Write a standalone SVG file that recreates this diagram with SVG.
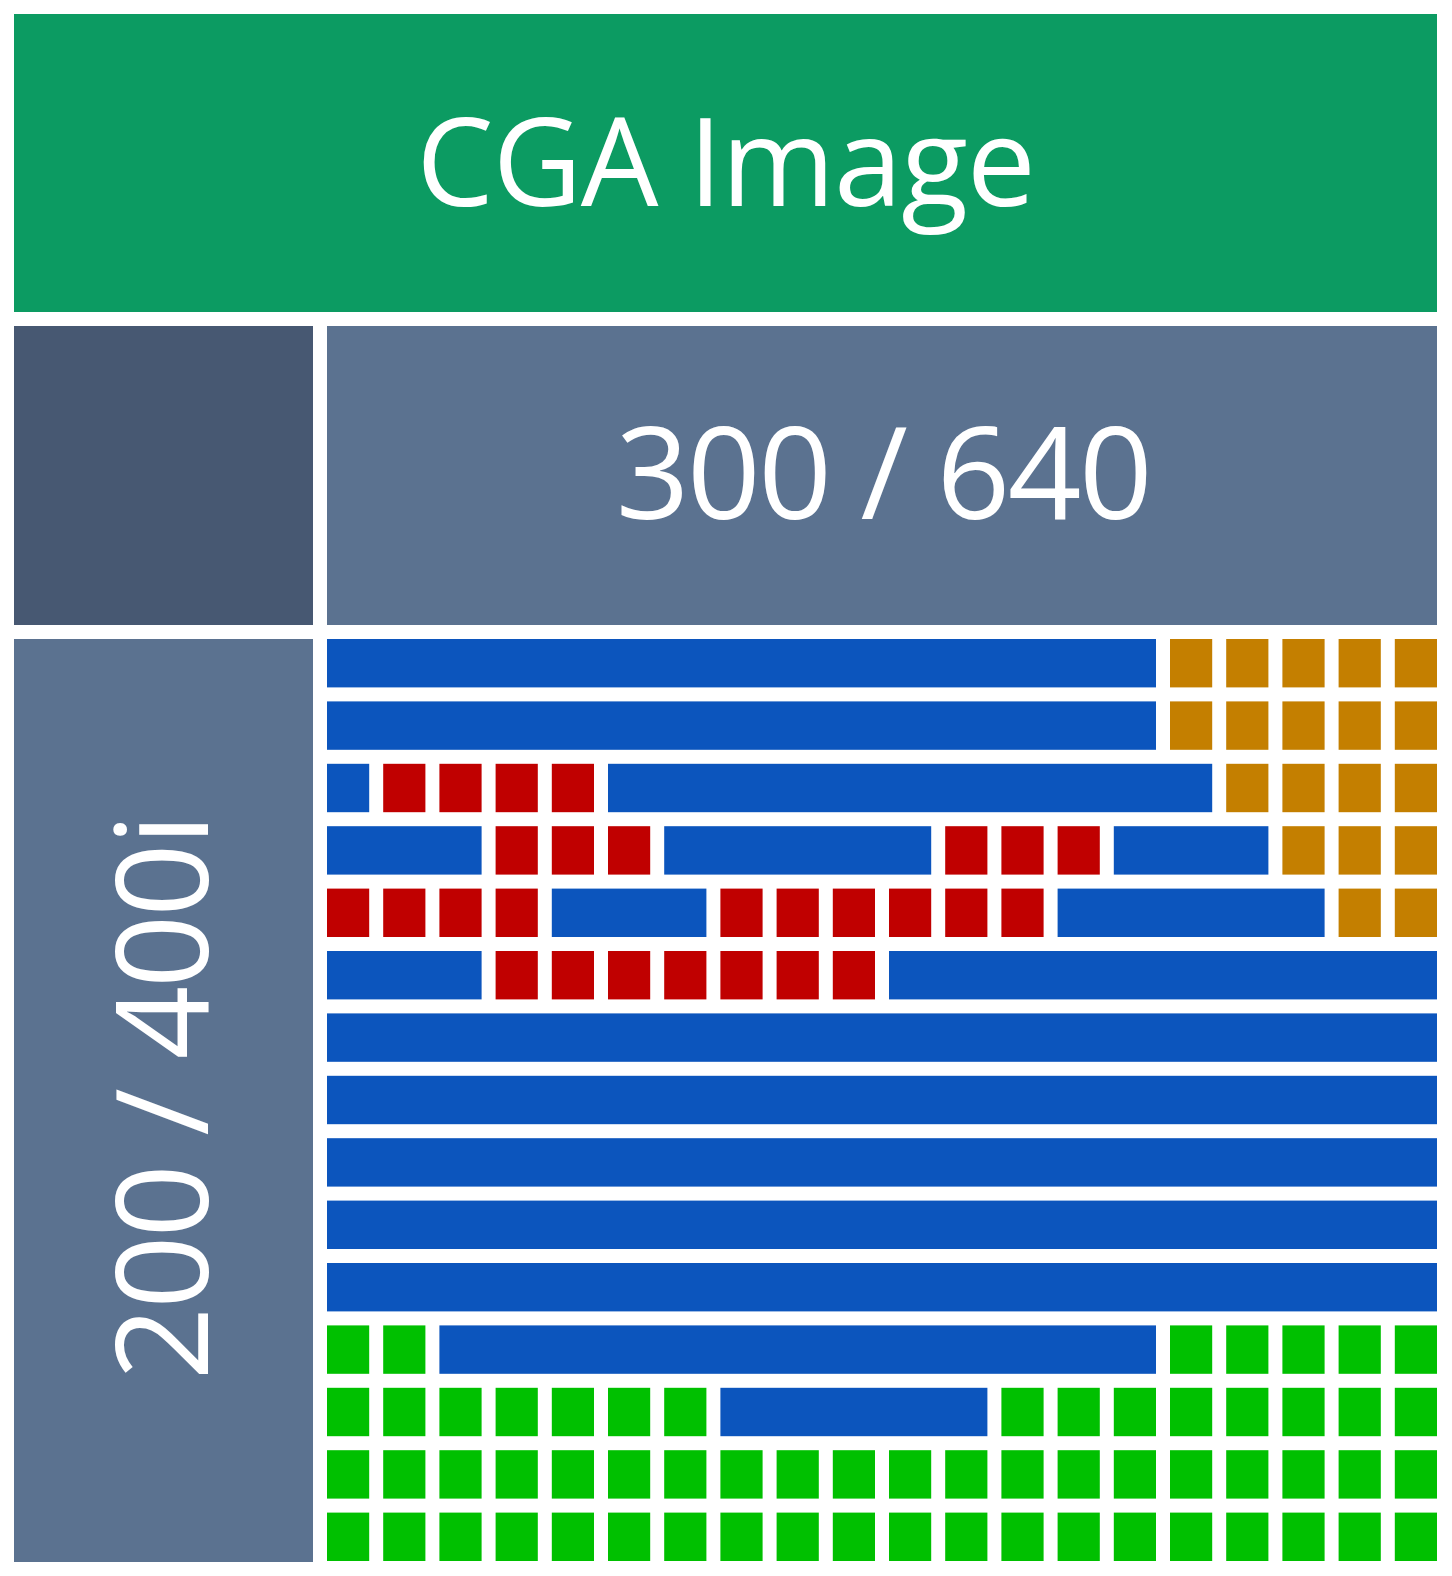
<svg xmlns="http://www.w3.org/2000/svg" xmlns:xlink="http://www.w3.org/1999/xlink" width="1452" height="1576" viewBox="0 0 1452 1576">
<style>
.lbl{font-family:"Open Sans","Noto Sans","Liberation Sans",sans-serif;fill:#ffffff;text-anchor:middle}
.b{fill:#0C55BD}
.r{fill:#C00000}
.o{fill:#C47F00}
.g{fill:#00C000}
</style>
<defs>
<rect id="c" width="42.2" height="48.4"/>
</defs>
<rect width="1452" height="1576" fill="#ffffff"/>
<g id="header">
<rect x="14" y="14" width="1423" height="298" fill="#0C9B62"/>
<text class="lbl" x="725.5" y="206" font-size="123" letter-spacing="-1.2">CGA Image</text>
</g>
<g id="corner">
<rect x="14" y="326" width="299" height="299" fill="#475872"/>
</g>
<g id="width-label">
<rect x="327" y="326" width="1110" height="299" fill="#5B7290"/>
<text class="lbl" x="883" y="519" font-size="129" letter-spacing="-2.5">300 / 640</text>
</g>
<g id="height-label">
<rect x="14" y="639" width="299" height="923" fill="#5B7290"/>
<text class="lbl" transform="translate(208 1098) rotate(-90)" x="0" y="0" font-size="129" letter-spacing="-2.5">200 / 400i</text>
</g>
<g id="grid">
<g id="row0" transform="translate(0 639)">
<rect class="b" x="327" y="0" width="829" height="48.4"/>
<use href="#c" class="o" x="1170"/><use href="#c" class="o" x="1226.2"/><use href="#c" class="o" x="1282.4"/><use href="#c" class="o" x="1338.6"/><use href="#c" class="o" x="1394.8"/>
</g>
<g id="row1" transform="translate(0 701.4)">
<rect class="b" x="327" y="0" width="829" height="48.4"/>
<use href="#c" class="o" x="1170"/><use href="#c" class="o" x="1226.2"/><use href="#c" class="o" x="1282.4"/><use href="#c" class="o" x="1338.6"/><use href="#c" class="o" x="1394.8"/>
</g>
<g id="row2" transform="translate(0 763.8)">
<rect class="b" x="327" y="0" width="42.2" height="48.4"/>
<use href="#c" class="r" x="383.2"/><use href="#c" class="r" x="439.4"/><use href="#c" class="r" x="495.6"/><use href="#c" class="r" x="551.8"/>
<rect class="b" x="608" y="0" width="604.2" height="48.4"/>
<use href="#c" class="o" x="1226.2"/><use href="#c" class="o" x="1282.4"/><use href="#c" class="o" x="1338.6"/><use href="#c" class="o" x="1394.8"/>
</g>
<g id="row3" transform="translate(0 826.2)">
<rect class="b" x="327" y="0" width="154.6" height="48.4"/>
<use href="#c" class="r" x="495.6"/><use href="#c" class="r" x="551.8"/><use href="#c" class="r" x="608"/>
<rect class="b" x="664.2" y="0" width="267" height="48.4"/>
<use href="#c" class="r" x="945.2"/><use href="#c" class="r" x="1001.4"/><use href="#c" class="r" x="1057.6"/>
<rect class="b" x="1113.8" y="0" width="154.6" height="48.4"/>
<use href="#c" class="o" x="1282.4"/><use href="#c" class="o" x="1338.6"/><use href="#c" class="o" x="1394.8"/>
</g>
<g id="row4" transform="translate(0 888.6)">
<use href="#c" class="r" x="327"/><use href="#c" class="r" x="383.2"/><use href="#c" class="r" x="439.4"/><use href="#c" class="r" x="495.6"/>
<rect class="b" x="551.8" y="0" width="154.6" height="48.4"/>
<use href="#c" class="r" x="720.4"/><use href="#c" class="r" x="776.6"/><use href="#c" class="r" x="832.8"/><use href="#c" class="r" x="889"/><use href="#c" class="r" x="945.2"/><use href="#c" class="r" x="1001.4"/>
<rect class="b" x="1057.6" y="0" width="267" height="48.4"/>
<use href="#c" class="o" x="1338.6"/><use href="#c" class="o" x="1394.8"/>
</g>
<g id="row5" transform="translate(0 951)">
<rect class="b" x="327" y="0" width="154.6" height="48.4"/>
<use href="#c" class="r" x="495.6"/><use href="#c" class="r" x="551.8"/><use href="#c" class="r" x="608"/><use href="#c" class="r" x="664.2"/><use href="#c" class="r" x="720.4"/><use href="#c" class="r" x="776.6"/><use href="#c" class="r" x="832.8"/>
<rect class="b" x="889" y="0" width="548" height="48.4"/>
</g>
<g id="rows6-10">
<rect class="b" x="327" y="1013.4" width="1110" height="48.4"/>
<rect class="b" x="327" y="1075.8" width="1110" height="48.4"/>
<rect class="b" x="327" y="1138.2" width="1110" height="48.4"/>
<rect class="b" x="327" y="1200.6" width="1110" height="48.4"/>
<rect class="b" x="327" y="1263" width="1110" height="48.4"/>
</g>
<g id="row11" transform="translate(0 1325.4)">
<use href="#c" class="g" x="327"/><use href="#c" class="g" x="383.2"/>
<rect class="b" x="439.4" y="0" width="716.6" height="48.4"/>
<use href="#c" class="g" x="1170"/><use href="#c" class="g" x="1226.2"/><use href="#c" class="g" x="1282.4"/><use href="#c" class="g" x="1338.6"/><use href="#c" class="g" x="1394.8"/>
</g>
<g id="row12" transform="translate(0 1387.8)">
<use href="#c" class="g" x="327"/><use href="#c" class="g" x="383.2"/><use href="#c" class="g" x="439.4"/><use href="#c" class="g" x="495.6"/><use href="#c" class="g" x="551.8"/><use href="#c" class="g" x="608"/><use href="#c" class="g" x="664.2"/>
<rect class="b" x="720.4" y="0" width="267" height="48.4"/>
<use href="#c" class="g" x="1001.4"/><use href="#c" class="g" x="1057.6"/><use href="#c" class="g" x="1113.8"/><use href="#c" class="g" x="1170"/><use href="#c" class="g" x="1226.2"/><use href="#c" class="g" x="1282.4"/><use href="#c" class="g" x="1338.6"/><use href="#c" class="g" x="1394.8"/>
</g>
<g id="row13" transform="translate(0 1450.2)">
<use href="#c" class="g" x="327"/><use href="#c" class="g" x="383.2"/><use href="#c" class="g" x="439.4"/><use href="#c" class="g" x="495.6"/><use href="#c" class="g" x="551.8"/><use href="#c" class="g" x="608"/><use href="#c" class="g" x="664.2"/><use href="#c" class="g" x="720.4"/><use href="#c" class="g" x="776.6"/><use href="#c" class="g" x="832.8"/><use href="#c" class="g" x="889"/><use href="#c" class="g" x="945.2"/><use href="#c" class="g" x="1001.4"/><use href="#c" class="g" x="1057.6"/><use href="#c" class="g" x="1113.8"/><use href="#c" class="g" x="1170"/><use href="#c" class="g" x="1226.2"/><use href="#c" class="g" x="1282.4"/><use href="#c" class="g" x="1338.6"/><use href="#c" class="g" x="1394.8"/>
</g>
<g id="row14" transform="translate(0 1512.6)">
<use href="#c" class="g" x="327"/><use href="#c" class="g" x="383.2"/><use href="#c" class="g" x="439.4"/><use href="#c" class="g" x="495.6"/><use href="#c" class="g" x="551.8"/><use href="#c" class="g" x="608"/><use href="#c" class="g" x="664.2"/><use href="#c" class="g" x="720.4"/><use href="#c" class="g" x="776.6"/><use href="#c" class="g" x="832.8"/><use href="#c" class="g" x="889"/><use href="#c" class="g" x="945.2"/><use href="#c" class="g" x="1001.4"/><use href="#c" class="g" x="1057.6"/><use href="#c" class="g" x="1113.8"/><use href="#c" class="g" x="1170"/><use href="#c" class="g" x="1226.2"/><use href="#c" class="g" x="1282.4"/><use href="#c" class="g" x="1338.6"/><use href="#c" class="g" x="1394.8"/>
</g>
</g>
<g id="connectors"/>
</svg>
